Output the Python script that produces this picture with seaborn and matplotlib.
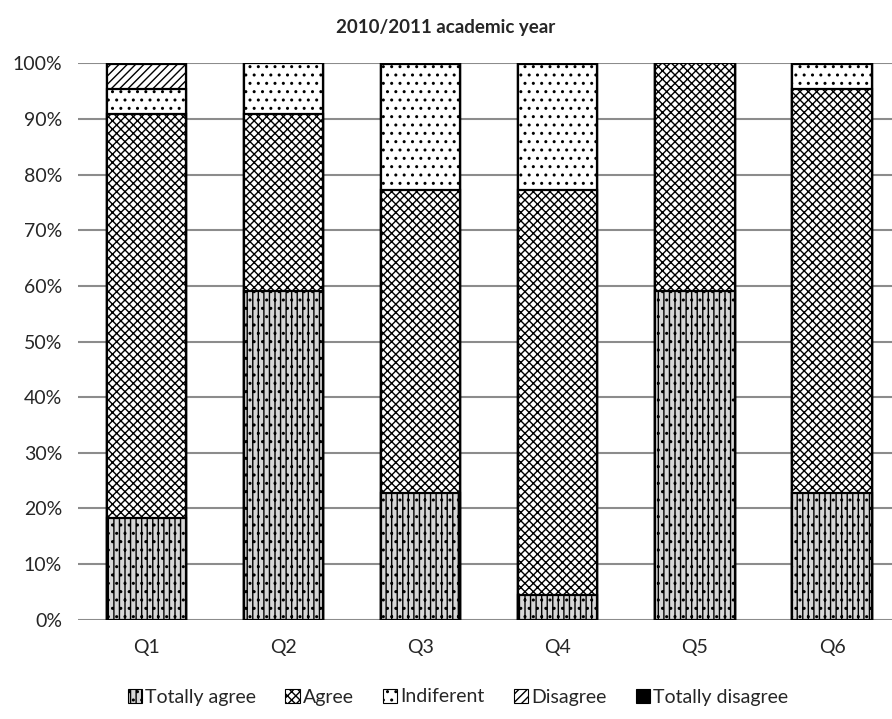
import matplotlib
matplotlib.use('Agg')
from matplotlib import pyplot as plt
from matplotlib.patches import Patch
import pandas as pd
import seaborn as sns

# Survey answers (share of students, %), 2010/2011
questions = ['Q1', 'Q2', 'Q3', 'Q4', 'Q5', 'Q6']
totally_agree = [18.2, 59.1, 22.7, 4.5, 59.1, 22.7]
agree = [72.7, 31.8, 54.5, 72.7, 40.9, 72.7]
indiferent = [4.5, 9.1, 22.7, 22.7, 0.0, 4.5]
disagree = [4.5, 0.0, 0.0, 0.0, 0.0, 0.0]
totally_disagree = [0.0, 0.0, 0.0, 0.0, 0.0, 0.0]

levels = ['Totally agree', 'Agree', 'Indiferent', 'Disagree', 'Totally disagree']
answers = pd.DataFrame({'Question': questions,
                        'Totally agree': totally_agree,
                        'Agree': agree,
                        'Indiferent': indiferent,
                        'Disagree': disagree,
                        'Totally disagree': totally_disagree})

# fill / hatch for each answer level
styles = {'Totally agree': ('#d6d6d6', '|||..'),
          'Agree': ('white', 'xxxx'),
          'Indiferent': ('white', '..'),
          'Disagree': ('white', '////'),
          'Totally disagree': ('black', '')}

sns.set_style('white')
plt.rcParams['font.family'] = ['Lato', 'DejaVu Sans']
plt.rcParams['hatch.linewidth'] = 1.0
plt.rcParams['hatch.color'] = '#3a3a3a'

fig = plt.figure(figsize=(8.92, 7.19), dpi=100)
ax = fig.add_axes([78 / 892, 0.138, 822.6 / 892, 0.774])

# stacked bars: draw cumulative totals from the top layer down
cum = answers[levels].cumsum(axis=1)
for level in reversed(levels):
    face, hatch = styles[level]
    sns.barplot(x=answers['Question'], y=cum[level], ax=ax, color=face,
                width=0.577, edgecolor='black', linewidth=1.6, hatch=hatch,
                saturation=1, zorder=3)

ax.set_ylim(0, 100)
ax.set_xlim(-0.5, 5.5)
ax.set_yticks(range(0, 101, 10))
ax.set_yticklabels([f'{v}%' for v in range(0, 101, 10)], fontsize=14)
ax.tick_params(axis='x', labelsize=14, pad=10)
ax.tick_params(axis='y', pad=8)
ax.set_xlabel('')
ax.set_ylabel('')
ax.yaxis.grid(True, color='#8c8c8c', linewidth=1.5, zorder=0)
ax.set_axisbelow(True)
for side in ['top', 'right', 'left', 'bottom']:
    ax.spines[side].set_visible(False)

fig.text(0.5, 1 - 28 / 719, '2010/2011 academic year', fontsize=13.5,
         fontweight='bold', ha='center', va='center')

handles = [Patch(facecolor=styles[lv][0], hatch=styles[lv][1],
                 edgecolor='black', linewidth=0.8) for lv in levels]
fig.legend(handles, levels, loc='center', ncol=5, frameon=False,
           fontsize=14, bbox_to_anchor=(458 / 892, 1 - 697 / 719),
           handlelength=0.75, handleheight=0.75, handletextpad=0.15,
           columnspacing=1.5)

plt.savefig('out.png', dpi=100)
